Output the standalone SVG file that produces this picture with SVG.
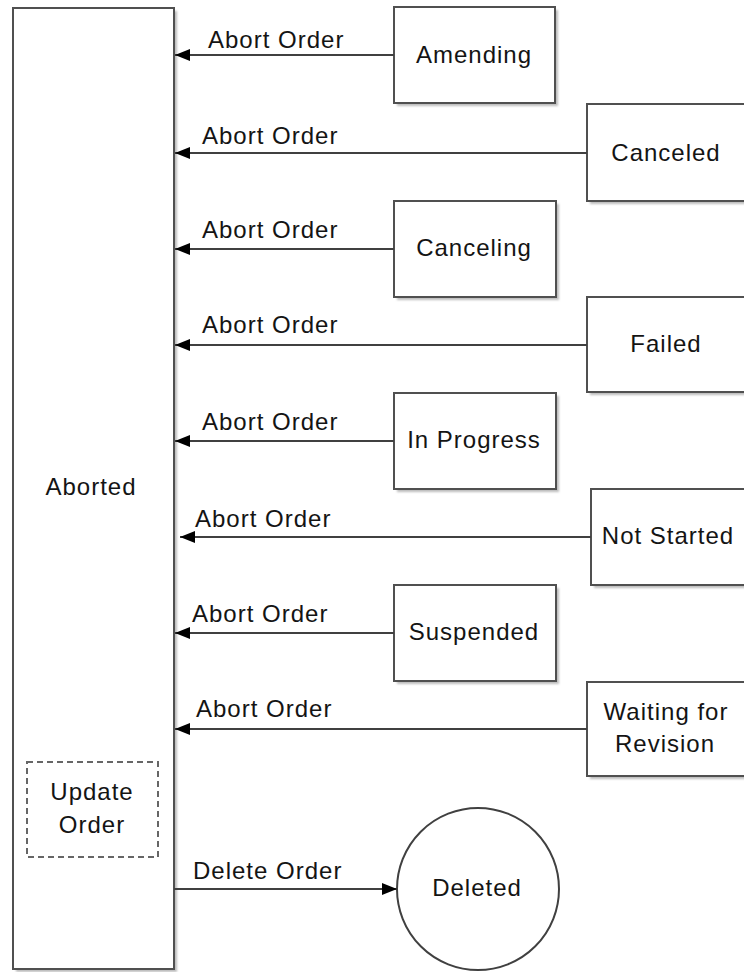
<svg xmlns="http://www.w3.org/2000/svg" width="744" height="972" viewBox="0 0 744 972">
<style>
  .box{fill:#fff;stroke:#505050;stroke-width:2}
  .shadow{fill:#bcbcbc;filter:url(#blur)}
  .dash{fill:none;stroke:#666;stroke-width:2;stroke-dasharray:6 4}
  .conn{stroke:#404040;stroke-width:2;fill:none}
  text{font-family:"Liberation Sans",Arial,sans-serif;font-size:24px;letter-spacing:1px;fill:#141414}
  .c{text-anchor:middle}
</style>
<defs>
  <filter id="blur" x="-10%" y="-10%" width="120%" height="120%"><feGaussianBlur stdDeviation="1"/></filter>
  <marker id="arr" markerUnits="userSpaceOnUse" markerWidth="16" markerHeight="12" refX="15" refY="6" orient="auto">
    <path d="M0,0 L15,6 L0,12 z" fill="#000"/>
  </marker>
</defs>
<rect width="744" height="972" fill="#fff"/>

<g id="aborted">
  <rect class="shadow" x="16" y="11" width="161" height="961"/>
  <rect class="box" x="13" y="8" width="161" height="961"/>
  <text class="c" x="91" y="495">Aborted</text>
  <g id="update-order">
    <rect class="dash" x="27" y="762" width="131" height="95"/>
    <text class="c" x="92" y="800">Update</text>
    <text class="c" x="92" y="833">Order</text>
  </g>
</g>

<g id="amending">
  <rect class="shadow" x="397" y="10" width="161" height="96"/>
  <rect class="box" x="394" y="7" width="161" height="96"/>
  <text class="c" x="474" y="63">Amending</text>
</g>
<g id="canceled">
  <rect class="shadow" x="590" y="107" width="161" height="97"/>
  <rect class="box" x="587" y="104" width="161" height="97"/>
  <text class="c" x="666" y="161">Canceled</text>
</g>
<g id="canceling">
  <rect class="shadow" x="397" y="204" width="162" height="96"/>
  <rect class="box" x="394" y="201" width="162" height="96"/>
  <text class="c" x="474" y="256">Canceling</text>
</g>
<g id="failed">
  <rect class="shadow" x="590" y="300" width="161" height="95"/>
  <rect class="box" x="587" y="297" width="161" height="95"/>
  <text class="c" x="666" y="352">Failed</text>
</g>
<g id="in-progress">
  <rect class="shadow" x="397" y="396" width="162" height="96"/>
  <rect class="box" x="394" y="393" width="162" height="96"/>
  <text class="c" x="474" y="448">In Progress</text>
</g>
<g id="not-started">
  <rect class="shadow" x="594" y="492" width="161" height="96"/>
  <rect class="box" x="591" y="489" width="161" height="96"/>
  <text class="c" x="668" y="544">Not Started</text>
</g>
<g id="suspended">
  <rect class="shadow" x="397" y="588" width="162" height="96"/>
  <rect class="box" x="394" y="585" width="162" height="96"/>
  <text class="c" x="474" y="640">Suspended</text>
</g>
<g id="waiting-for-revision">
  <rect class="shadow" x="590" y="685" width="161" height="94"/>
  <rect class="box" x="587" y="682" width="161" height="94"/>
  <text class="c" x="666" y="720">Waiting for</text>
  <text class="c" x="665" y="752">Revision</text>
</g>
<g id="deleted">
  <circle cx="478" cy="889" r="81" fill="#fff" stroke="#404040" stroke-width="2"/>
  <text class="c" x="477" y="896">Deleted</text>
</g>

<g id="connectors">
  <line class="conn" x1="394" y1="55" x2="175" y2="55" marker-end="url(#arr)"/>
  <line class="conn" x1="587" y1="153" x2="175" y2="153" marker-end="url(#arr)"/>
  <line class="conn" x1="394" y1="249" x2="175" y2="249" marker-end="url(#arr)"/>
  <line class="conn" x1="587" y1="345" x2="175" y2="345" marker-end="url(#arr)"/>
  <line class="conn" x1="394" y1="441" x2="175" y2="441" marker-end="url(#arr)"/>
  <line class="conn" x1="591" y1="537" x2="180" y2="537" marker-end="url(#arr)"/>
  <line class="conn" x1="394" y1="633" x2="175" y2="633" marker-end="url(#arr)"/>
  <line class="conn" x1="587" y1="729" x2="175" y2="729" marker-end="url(#arr)"/>
  <line class="conn" x1="174" y1="889" x2="397" y2="889" marker-end="url(#arr)"/>
  <text x="208" y="48">Abort Order</text>
  <text x="202" y="144">Abort Order</text>
  <text x="202" y="238">Abort Order</text>
  <text x="202" y="333">Abort Order</text>
  <text x="202" y="430">Abort Order</text>
  <text x="195" y="527">Abort Order</text>
  <text x="192" y="622">Abort Order</text>
  <text x="196" y="717">Abort Order</text>
  <text x="193" y="879">Delete Order</text>
</g>
</svg>
